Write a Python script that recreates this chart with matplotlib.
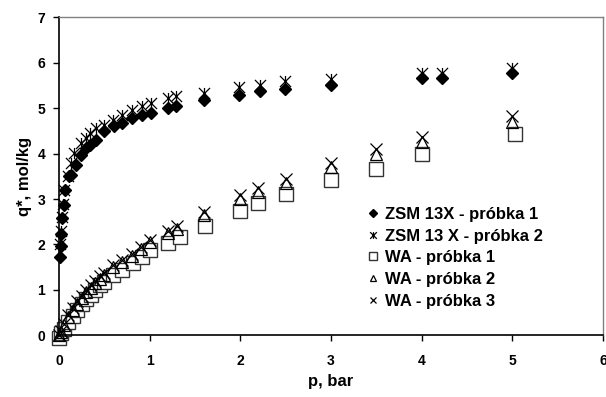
import numpy as np
import matplotlib
matplotlib.use("Agg")
import matplotlib.pyplot as plt
from matplotlib.path import Path

plt.rcParams['font.family'] = ['Liberation Sans', 'DejaVu Sans']
plt.rcParams['font.weight'] = 'bold'

# ZSM 13X - probka 1 (filled diamonds)
p_zsm1 = [0.01, 0.02, 0.025, 0.03, 0.05, 0.065, 0.105, 0.135, 0.19, 0.245, 0.3, 0.34,
          0.41, 0.5, 0.61, 0.69, 0.8, 0.91, 1.01, 1.2, 1.29, 1.6, 1.99, 2.22, 2.49,
          3.0, 4.0, 4.22, 5.0]
q_zsm1 = [1.73, 1.97, 2.22, 2.58, 2.87, 3.2, 3.5, 3.52, 3.75, 3.97, 4.12, 4.19,
          4.3, 4.49, 4.61, 4.67, 4.78, 4.84, 4.89, 5.0, 5.05, 5.18, 5.28, 5.37, 5.42,
          5.51, 5.66, 5.67, 5.77]

# ZSM 13 X - probka 2 (asterisks)
p_zsm2 = [0.015, 0.02, 0.03, 0.04, 0.06, 0.1, 0.135, 0.17, 0.245, 0.3, 0.34, 0.41,
          0.5, 0.594, 0.69, 0.8, 0.91, 1.01, 1.2, 1.29, 1.6, 1.99, 2.22, 2.49,
          3.0, 4.0, 4.22, 5.0]
q_zsm2 = [2.0, 2.3, 2.6, 2.9, 3.2, 3.5, 3.79, 4.01, 4.23, 4.35, 4.45, 4.56,
          4.63, 4.74, 4.85, 4.96, 5.04, 5.1, 5.22, 5.26, 5.33, 5.47, 5.51, 5.59,
          5.64, 5.76, 5.76, 5.88]

# WA - probka 1 (squares)
p_wa1 = [0.0, 0.02, 0.05, 0.1, 0.15, 0.2, 0.25, 0.3, 0.35, 0.4, 0.45, 0.5, 0.6,
         0.7, 0.82, 0.92, 1.0, 1.2, 1.33, 1.61, 2.0, 2.2, 2.5, 3.0, 3.5, 4.0, 5.03]
q_wa1 = [-0.05, 0.05, 0.15, 0.3, 0.42, 0.55, 0.7, 0.8, 0.9, 1.0, 1.1, 1.18, 1.33,
         1.45, 1.59, 1.72, 1.87, 2.04, 2.16, 2.41, 2.73, 2.92, 3.1, 3.42, 3.66, 3.99, 4.43]

# WA - probka 2 (triangles)
p_wa2 = [0.0, 0.02, 0.05, 0.1, 0.15, 0.2, 0.25, 0.3, 0.35, 0.4, 0.45, 0.5, 0.6,
         0.7, 0.8, 0.9, 1.0, 1.2, 1.3, 1.6, 2.0, 2.2, 2.5, 3.0, 3.5, 4.0, 5.0]
q_wa2 = [0.0, 0.08, 0.22, 0.4, 0.55, 0.7, 0.82, 0.95, 1.05, 1.15, 1.25, 1.33, 1.5,
         1.62, 1.75, 1.9, 2.05, 2.25, 2.35, 2.65, 3.0, 3.15, 3.35, 3.7, 4.0, 4.25, 4.7]

# WA - probka 3 (x)
p_wa3 = [0.0, 0.02, 0.05, 0.1, 0.15, 0.2, 0.25, 0.3, 0.35, 0.4, 0.45, 0.5, 0.6,
         0.7, 0.8, 0.9, 1.0, 1.2, 1.3, 1.6, 2.0, 2.2, 2.5, 3.0, 3.5, 4.0, 5.0]
q_wa3 = [0.02, 0.1, 0.25, 0.45, 0.6, 0.75, 0.87, 1.0, 1.1, 1.2, 1.3, 1.38, 1.55,
         1.67, 1.8, 1.95, 2.1, 2.3, 2.4, 2.72, 3.08, 3.25, 3.45, 3.8, 4.1, 4.37, 4.82]

# asterisk = X + vertical bar (Excel style)
star = Path([(-1, -1), (1, 1), (-1, 1), (1, -1), (0, -1), (0, 1)],
            [Path.MOVETO, Path.LINETO, Path.MOVETO, Path.LINETO, Path.MOVETO, Path.LINETO])

fig = plt.figure(figsize=(6.06, 3.97), dpi=100)
ax = fig.add_axes([0.0974, 0.155, 0.8976, 0.802])

ax.plot(p_zsm1, q_zsm1, 'D', color='black', markersize=6.5, linestyle='none',
        clip_on=False, label="ZSM 13X - próbka 1")
ax.plot(p_zsm2, q_zsm2, marker=star, color='black', markersize=8, mew=0.9,
        linestyle='none', clip_on=False, label="ZSM 13 X - próbka 2")
ax.plot(p_wa1, q_wa1, 's', mfc='white', mec='#333333', markersize=9.5, mew=1.0,
        linestyle='none', clip_on=False, label="WA - próbka 1")
ax.plot(p_wa2, q_wa2, '^', mfc='none', mec='black', markersize=8, mew=0.9,
        linestyle='none', clip_on=False, label="WA - próbka 2")
ax.plot(p_wa3, q_wa3, 'x', color='black', markersize=8, mew=0.9,
        linestyle='none', clip_on=False, label="WA - próbka 3")

ax.set_xlim(0, 6)
ax.set_ylim(0, 7)
ax.set_xticks(range(0, 7))
ax.set_yticks(range(0, 8))
ax.tick_params(direction='out', length=4, width=1, labelsize=10)
ax.tick_params(axis='x', pad=9)
ax.tick_params(axis='y', pad=6)

for s in ['top', 'right']:
    ax.spines[s].set_color('#808080')
    ax.spines[s].set_linewidth(1)
for s in ['left', 'bottom']:
    ax.spines[s].set_color('black')
    ax.spines[s].set_linewidth(1.2)
ax.tick_params(top=False, right=False)

ax.set_xlabel("p, bar", fontsize=12, fontweight='bold', labelpad=5)
ax.set_ylabel("q*, mol/kg", fontsize=12, fontweight='bold', labelpad=4)

ax.legend(loc='upper left', bbox_to_anchor=(0.553, 0.43), frameon=False,
          fontsize=12, markerscale=0.6, handlelength=0.6, handletextpad=0.4,
          labelspacing=0.4, borderpad=0)

fig.savefig("out.png", dpi=100)
